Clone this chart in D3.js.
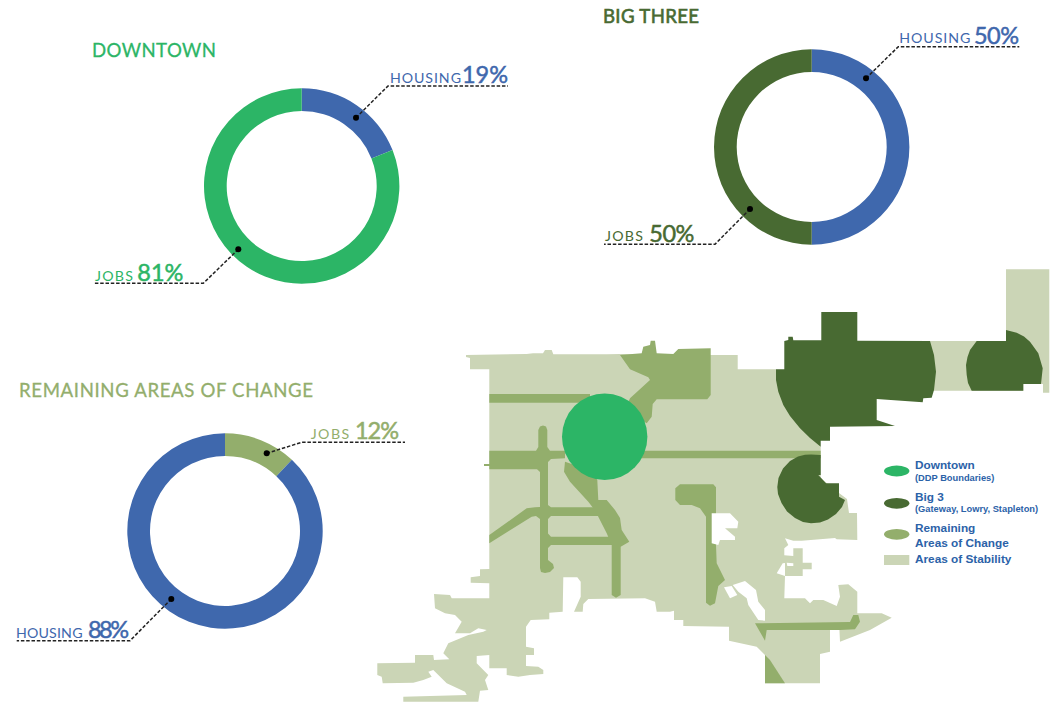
<!DOCTYPE html>
<html>
<head>
<meta charset="utf-8">
<script src="https://cdn.jsdelivr.net/npm/d3@7"></script>
<style>
    html, body { margin: 0; padding: 0; background: #fff; }
    svg { display: block; }
</style>
</head>
<body>
<div id="wrapper"></div>
<script>
// donut values, share of each area, clockwise from the top
const areaNames = ["DOWNTOWN", "BIG THREE", "REMAINING AREAS OF CHANGE"]
const downtownShares = [["HOUSING", 19], ["JOBS", 81]]
const bigThreeShares = [["HOUSING", 50], ["JOBS", 50]]
const remainingShares = [["JOBS", 12], ["HOUSING", 88]]

const legendLabels = ["Downtown", "Big 3", "Remaining", "Areas of Stability"]
const legendNotes = ["(DDP Boundaries)", "(Gateway, Lowry, Stapleton)", "Areas of Change"]

// map outlines, in map units
const stabilityMain = [
    [466,357],[470,358],[470,369.3],[489.3,369.3],[489.3,569],[480,569.3],[480,576],[470.7,577.3],[470.7,582.7],[489.3,583.3],
    [489.3,598.3],[451.7,598.3],[450,595],[434,594],[435,608.3],[445,613.3],[455,615],[461.7,621.7],[455,633.3],[470,633.3],
    [478.3,628.3],[486.7,630],[483.3,631.7],[468.3,635],[448.3,643.3],[443.3,653.3],[449.3,659.3],[434,660],[433.3,655],[415,655],
    [415,662.7],[377.3,663.3],[377.3,675],[381.7,676.7],[382.7,683.3],[413.3,682.7],[423.3,680],[431.7,676.7],[428.3,671.7],[433.3,670],
    [446.7,683.3],[465,691.7],[466.7,695],[403.3,696.7],[403.3,701.7],[478.3,701.7],[480,690.7],[488.3,690],[485,680],[488.3,675],
    [476.7,663.3],[476.7,656],[489.3,655],[489.3,668.3],[506.7,668.3],[506.7,675],[518.3,676.7],[530,675],[543.3,674],[543.3,670],
    [538.3,666.7],[526,666],[526,655],[534,655],[534,648.3],[526,646.7],[526,626.7],[530.7,620],[549.3,619.3],[549.3,612.7],
    [562.7,611.7],[563.3,577.3],[577.3,577.3],[580.7,581.7],[580.7,596.7],[574,611.7],[582.7,611.7],[583.3,604],[588.3,599],[645,598.3],
    [655,601.7],[656.7,611.7],[670,611.7],[674,610.7],[674,620],[683.3,620],[683.3,626],[729,626.7],[729,640.7],[756.7,646.7],
    [765,655],[765,683.3],[820,683.3],[820,654],[830,651.7],[830,626.7],[839.3,626.7],[840,641.7],[870,630],[891.7,617.7],
    [881.7,613.3],[857.3,613.3],[857.3,591.7],[848.3,584.3],[838.3,585],[840,596.7],[836.7,606],[823.3,600],[813.3,600],[810,603.3],
    [805,598.3],[784.3,598.3],[785,576],[802.7,576],[802.7,569.3],[811.7,569.3],[811.7,562.7],[802.7,562.7],[802.7,548.3],[793.3,548.3],
    [793.3,556],[784.3,555.3],[784.3,548.3],[788.3,545],[785,538.3],[793.3,540.7],[801.7,540.7],[835,538],[836.7,539.3],[857.3,540],
    [857,513],[849,513],[847,499],[835,490],[820.7,478],[820.7,446.7],[776,369.3],[737.7,369.3],[737.7,355],[710.7,355],
    [620,354],[606.7,354.3],[553.3,354.3],[551.7,350],[545,350],[543,353.3],[533,353.3],[526.7,354],[466,355]
]
const stabilityEast = [
    [925,341],[1006,341],[1006,269.3],[1049.3,269.3],[1049.3,392.7],[1043,392.7],[1043,384],[1023.3,384],[1023.3,390.7],[925,390.7]
]
const changeNorth = [
    [620,355],[641.7,353.3],[643.3,346.7],[650,345],[650.7,340.7],[655,340.7],[656.7,353.3],[673.3,354],[678.3,349],[710.7,348.3],
    [710.7,395],[707.3,399.3],[656.7,399.3],[652.7,404],[651.7,416.7],[646.7,423.3],[625,410],[630,398.3],[650,380],[648.3,377.3],[630,369.3]
]
const changeTopStrip = [[489.3,394],[590,394],[590,402.7],[489.3,402.7]]
const changeEastStrip = [[620,450.7],[820.7,450.7],[820.7,458.3],[620,458.3]]
const changeWest = [
    [489.3,450.7],[536,450.7],[538.3,447],[538.3,430],[540,426.5],[543,425.5],[546,426.5],[547.3,430],[547.3,447],[550,450.7],
    [565,450.7],[565,458.3],[551,459],[548,462],[548,505],[551,507.3],[600,507.3],[600,516],[551,516],[548,519],
    [548,533.5],[551,536.7],[615,536.7],[615,545],[551,545],[548,548],[548,560],[553,564],[554,568],[550,572],
    [545,573],[541,572],[540,568],[540,519],[536,516],[531.7,516.7],[489.3,543.3],[489.3,535],[526.7,508.3],[535,507.3],
    [540,507],[540,472],[537,469.3],[489.3,469.3],[489.3,466],[484,466],[484,464],[489.3,464]
]
const changeCentral = [
    [565,461.7],[564,471.7],[570,481.7],[588.3,501.7],[593.3,508.3],[598.3,516.7],[606.7,533.3],[611.7,545],[611.7,595],[616,597.7],
    [620.7,595],[620.7,546.7],[629.3,541.7],[621.7,530],[620,518],[615,510],[606.7,500],[598.3,500],[597.3,480],[590,470]
]
const changeEast = [
    [675.3,488.3],[680,484.3],[713.3,484.3],[716,487.3],[716,545],[716.7,563.3],[725,580],[718.3,586],[715,603.3],[710,605.7],
    [706,602.7],[706,516.7],[700,508.3],[691.7,505],[680,505],[675.3,500]
]
const changeSouthStrip = [
    [755,623.3],[831.7,622.3],[850,622],[853.3,615],[858.3,615],[860,621.7],[855,629.3],[840,630],[766.7,630],[765,640.7]
]
const changeSouthWedge = [[765,655],[770,660],[785,683.3],[765,683.3]]
const bigThreeNorth = [
    [776,369.3],[784.3,369.3],[784.3,341],[788.3,340],[788.3,336.7],[792.7,336.7],[793.3,340.3],[821.3,340.3],[821.3,312],[857.3,312],
    [857.3,340.7],[930,341],[934,355],[936,371.7],[934,390],[931.7,397.7],[923.3,398.3],[922.7,402.3],[876.7,399],[876.7,420],
    [895,426],[830,426.7],[830,440.7],[820.7,440.7],[820.7,446.7],[810,438],[800,428.3],[790,416],[783.3,405],[778.3,391.7],[776,380]
]
const bigThreeEast = [
    [1006,330],[1016.7,332.7],[1024,336.5],[1030,341.7],[1038.3,353.3],[1042.7,368.3],[1041,384],[1023.3,384],[1023.3,390.7],[971.7,390.7],
    [968,383],[966.7,375],[966,365],[967.5,357],[970,350],[976.7,341],[1006,341]
]
const bigThreeSouth = [
    [820.7,455],[820.7,475],[818.3,475],[826,483.3],[839,483.3],[839,496.7],[845,500],[842,507],[836,514],[828,519.5],
    [820,522.5],[811,523.3],[803,522],[795,518],[787,511.5],[781.5,503],[778,494],[777.3,487],[778.5,478],[783,468.5],
    [790,461],[798,456.5],[805,454.8],[811,454.5]
]
const mapHoles = [
    [[711.7,513.3],[730,513.3],[738.3,521.7],[737.3,528.3],[725,528.3],[735,536.7],[735,540],[720,540],[718.3,545],[711.7,543.3]],
    [[724,587.3],[731.7,586],[737.3,595],[730,598.3]],
    [[732.7,585],[745,581],[756,590],[758.3,601.7],[765,610],[765,620.7],[758.3,620],[748.3,605],[746.7,598.3],[738.3,591.7]],
    [[786.7,562.7],[793.3,563.3],[793.3,566],[787.3,566]],
    [[782.7,563.3],[785,563],[785,576],[776.7,573.3]]
]
const downtownCentre = [604.7, 436.7]

const colors = {
    green: "#2cb566",
    blue: "#3f68ad",
    dark: "#486a32",
    change: "#93ae6c",
    stability: "#cbd5b6",
    legendText: "#2b62a8",
}

function drawChart() {

    const dimensions = { width: 1057, height: 703 }
    const donut = { outer: 97.7, inner: 75 }
    const baseFont = "Lato, 'Open Sans', sans-serif"

    const wrapper = d3.select("#wrapper")
        .append("svg")
        .attr("width", dimensions.width)
        .attr("height", dimensions.height)

    // map
    const mapX = d3.scaleLinear().domain([0, dimensions.width]).range([0, dimensions.width])
    const mapY = d3.scaleLinear().domain([0, dimensions.height]).range([0, dimensions.height])
    const outline = d3.line()
        .x(d => mapX(d[0]))
        .y(d => mapY(d[1]))
        .curve(d3.curveLinearClosed)

    const mapLayers = [
        { shapes: [stabilityMain, stabilityEast], fill: colors.stability },
        { shapes: [changeNorth, changeTopStrip, changeEastStrip, changeWest, changeCentral, changeEast, changeSouthStrip, changeSouthWedge], fill: colors.change },
        { shapes: mapHoles, fill: "#fff" },
        { shapes: [bigThreeNorth, bigThreeEast, bigThreeSouth], fill: colors.dark },
    ]
    const map = wrapper.append("g")
    mapLayers.forEach(layer => {
        map.append("g")
            .selectAll("path")
            .data(layer.shapes)
            .join("path")
            .attr("d", outline)
            .attr("fill", layer.fill)
    })
    map.append("ellipse")
        .attr("cx", mapX(downtownCentre[0]))
        .attr("cy", mapY(downtownCentre[1]))
        .attr("rx", 42.7)
        .attr("ry", 43.3)
        .attr("fill", colors.green)

    // donuts
    const pie = d3.pie().sort(null).value(d => d[1])
    const arc = d3.arc().innerRadius(donut.inner).outerRadius(donut.outer)

    const panels = [
        {
            name: areaNames[0], shares: downtownShares, centre: [301.7, 186], fills: [colors.blue, colors.green],
            title: { x: 92, y: 57, width: 124, color: colors.green, stroke: 0.3 },
            notes: [
                { dot: [356, 117.7], elbow: [388, 86], end: [508, 86], word: [390, 82.7, 71], num: [462, 83.3, 46], color: colors.blue },
                { dot: [238.3, 249.3], elbow: [203.3, 283.3], end: [93.3, 283.3], word: [95, 280.7, 38], num: [137.3, 280.7, 46], color: colors.green },
            ],
        },
        {
            name: areaNames[1], shares: bigThreeShares, centre: [811.7, 147], fills: [colors.blue, colors.dark],
            title: { x: 603, y: 22.7, width: 96, color: colors.dark, stroke: 0.6 },
            notes: [
                { dot: [866, 78.3], elbow: [898.3, 46.7], end: [1019.3, 46.7], word: [899.3, 42.7, 71], num: [974, 43.7, 45], color: colors.blue },
                { dot: [750, 209], elbow: [715, 244.3], end: [604, 244.3], word: [605, 240.7, 38], num: [649.3, 241.7, 45], color: colors.dark },
            ],
        },
        {
            name: areaNames[2], shares: remainingShares, centre: [225, 531], fills: [colors.change, colors.blue],
            title: { x: 19, y: 396.7, width: 294, color: colors.change, stroke: 0.3 },
            notes: [
                { dot: [266.7, 453.3], elbow: [301.7, 442.3], end: [405, 442.3], word: [310.7, 439, 38.5], num: [355, 439, 44], color: colors.change },
                { dot: [171.3, 599], elbow: [130, 640.7], end: [16.7, 640.7], word: [16, 638, 66.5], num: [88, 637.7, 41], color: colors.blue },
            ],
        },
    ]

    panels.forEach(panel => {
        const group = wrapper.append("g")

        group.append("text")
            .attr("x", panel.title.x)
            .attr("y", panel.title.y)
            .attr("textLength", panel.title.width)
            .attr("fill", panel.title.color)
            .attr("stroke", panel.title.color)
            .attr("stroke-width", panel.title.stroke)
            .style("font", `400 18.6px ${baseFont}`)
            .text(panel.name)

        group.append("g")
            .attr("transform", `translate(${panel.centre[0]},${panel.centre[1]})`)
            .selectAll("path")
            .data(pie(panel.shares))
            .join("path")
            .attr("d", arc)
            .attr("fill", (d, i) => panel.fills[i])

        const notes = group.selectAll("g.note")
            .data(panel.notes.map((n, i) => ({ ...n, share: panel.shares[i] })))
            .join("g")
            .attr("class", "note")

        notes.append("path")
            .attr("d", d => d3.line()([d.dot, d.elbow, d.end]))
            .attr("fill", "none")
            .attr("stroke", "#222")
            .attr("stroke-width", 1.5)
            .attr("stroke-dasharray", "3.5 1.8")

        notes.append("circle")
            .attr("cx", d => d.dot[0])
            .attr("cy", d => d.dot[1])
            .attr("r", 3)
            .attr("fill", "#000")

        notes.append("text")
            .attr("x", d => d.word[0])
            .attr("y", d => d.word[1])
            .attr("textLength", d => d.word[2])
            .attr("fill", d => d.color)
            .style("font", `400 14.2px ${baseFont}`)
            .text(d => d.share[0])

        notes.append("text")
            .attr("x", d => d.num[0])
            .attr("y", d => d.num[1])
            .attr("textLength", d => d.num[2])
            .attr("fill", d => d.color)
            .attr("stroke", d => d.color)
            .attr("stroke-width", 0.5)
            .style("font", `400 23.5px ${baseFont}`)
            .text(d => `${d.share[1]}%`)
    })

    // legend
    const legend = wrapper.append("g")
        .style("font-family", "'Liberation Sans', Arial, sans-serif")
        .style("font-weight", 700)
        .attr("fill", colors.legendText)

    const swatchColors = [colors.green, colors.dark, colors.change]
    const swatchY = [471, 503.3, 534.3]
    legend.selectAll("ellipse")
        .data(swatchColors)
        .join("ellipse")
        .attr("cx", 896.7)
        .attr("cy", (d, i) => swatchY[i])
        .attr("rx", 12.7)
        .attr("ry", 5.4)
        .attr("fill", d => d)
    legend.append("rect")
        .attr("x", 884)
        .attr("y", 555)
        .attr("width", 25.3)
        .attr("height", 10)
        .attr("fill", colors.stability)

    const labelY = [469, 501, 532.3, 562.7]
    legend.selectAll("text.label")
        .data(legendLabels)
        .join("text")
        .attr("class", "label")
        .attr("x", 915)
        .attr("y", (d, i) => labelY[i])
        .attr("font-size", 11.8)
        .text(d => d)

    const noteY = [480.7, 512.3, 546.7]
    const noteSize = [9.3, 9.3, 11.8]
    legend.selectAll("text.note")
        .data(legendNotes)
        .join("text")
        .attr("class", "note")
        .attr("x", 915)
        .attr("y", (d, i) => noteY[i])
        .attr("font-size", (d, i) => noteSize[i])
        .text(d => d)
}

drawChart()
</script>
</body>
</html>
